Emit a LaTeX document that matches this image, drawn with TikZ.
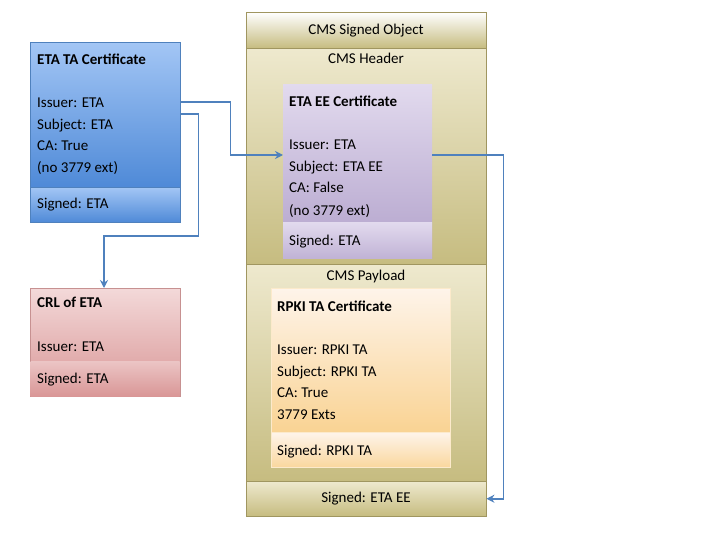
\documentclass[tikz,border=0pt]{standalone}
\usepackage{fontspec}
\setmainfont{Carlito}
\usetikzlibrary{arrows.meta}
\definecolor{linkblue}{HTML}{4F81BD}
\definecolor{olivetop}{HTML}{EEE9CE}
\definecolor{olivebot}{HTML}{C6BC80}
\definecolor{oliveline}{HTML}{A09660}
\definecolor{bluetop}{HTML}{A3C6F5}
\definecolor{bluebot}{HTML}{3A7BD0}
\definecolor{violettop}{HTML}{E2DAEE}
\definecolor{violetbot}{HTML}{B2A2CB}
\definecolor{redtop}{HTML}{F3D9D9}
\definecolor{redbot}{HTML}{D99696}
\definecolor{orangetop}{HTML}{FEF4EA}
\definecolor{orangebot}{HTML}{F8CB7E}
\tikzset{
  box/.style={anchor=north west, inner sep=0pt},
  txt/.style={anchor=base west, inner sep=0pt, font=\fontsize{15}{18}\selectfont},
  ctxt/.style={anchor=base, inner sep=0pt, font=\fontsize{15}{18}\selectfont},
  link/.style={draw=linkblue, line width=1.6pt, -{Stealth[length=8pt,width=8pt]}}
}
\begin{document}
\begin{tikzpicture}[x=1pt, y=-1pt]
  \useasboundingbox (0,0) rectangle (720,540);

  % CMS signed object
  \node[box, draw=oliveline, minimum width=240pt, minimum height=36pt, top color=white, bottom color=olivebot] (cmstitle) at (246,12) {};
  \node[box, draw=oliveline, minimum width=240pt, minimum height=216pt, top color=olivetop, bottom color=olivebot] (header) at (246,48) {};
  \node[box, draw=oliveline, minimum width=240pt, minimum height=217pt, top color=olivetop, bottom color=olivebot] (payload) at (246,264) {};
  \node[box, draw=oliveline, minimum width=240pt, minimum height=35pt, top color=olivetop, bottom color=olivebot] (cmssig) at (246,481) {};
  \node[ctxt] at (366,35) {CMS Signed Object};
  \node[ctxt] at (366,64) {CMS Header};
  \node[ctxt] at (366,280) {CMS Payload};
  \node[ctxt] at (366,502) {Signed: ETA EE};

  % ETA EE certificate
  \node[box, minimum width=149pt, minimum height=174pt, top color=violettop, bottom color=violetbot] (ee) at (283,84) {};
  \node[box, minimum width=149pt, minimum height=36pt, top color=violettop, bottom color=violetbot!70!violettop] (eesig) at (283,222) {};
  \node[txt, font=\fontsize{15}{18}\bfseries] at (289,107) {ETA EE Certificate};
  \node[txt] at (289,150) {Issuer: ETA};
  \node[txt] at (289,172) {Subject: ETA EE};
  \node[txt] at (289,193) {CA: False};
  \node[txt] at (289,215) {(no 3779 ext)};
  \node[txt] at (289,245) {Signed: ETA};

  % ETA TA certificate
  \node[box, draw=linkblue, minimum width=150pt, minimum height=180pt, top color=bluetop, bottom color=bluebot] (ta) at (30,42) {};
  \node[box, draw=linkblue, minimum width=150pt, minimum height=35pt, top color=bluetop, bottom color=bluebot!80!bluetop] (tasig) at (30,187) {};
  \node[txt, font=\fontsize{15}{18}\bfseries] at (37,65) {ETA TA Certificate};
  \node[txt] at (37,108) {Issuer: ETA};
  \node[txt] at (37,130) {Subject: ETA};
  \node[txt] at (37,151) {CA: True};
  \node[txt] at (37,173) {(no 3779 ext)};
  \node[txt] at (37,209) {Signed: ETA};

  % CRL of ETA
  \node[box, draw=redbot!80!gray, minimum width=150pt, minimum height=108pt, top color=redtop, bottom color=redbot] (crl) at (30,288) {};
  \node[box, minimum width=149pt, minimum height=35pt, top color=redtop!70!redbot, bottom color=redbot] (crlsig) at (30.5,361) {};
  \node[txt, font=\fontsize{15}{18}\bfseries] at (37,307) {CRL of ETA};
  \node[txt] at (37,351) {Issuer: ETA};
  \node[txt] at (37,383) {Signed: ETA};

  % RPKI TA certificate
  \node[box, draw=orangebot!40!white, minimum width=179pt, minimum height=179pt, top color=orangetop, bottom color=orangebot] (rpki) at (271,288) {};
  \node[box, draw=orangebot!40!white, minimum width=179pt, minimum height=35pt, top color=orangetop, bottom color=orangebot!70!orangetop] (rpkisig) at (271,432) {};
  \node[txt, font=\fontsize{15}{18}\bfseries] at (277,311) {RPKI TA Certificate};
  \node[txt] at (277,354) {Issuer: RPKI TA};
  \node[txt] at (277,376) {Subject: RPKI TA};
  \node[txt] at (277,397) {CA: True};
  \node[txt] at (277,419) {3779 Exts};
  \node[txt] at (277,455) {Signed: RPKI TA};

  % links
  \draw[link] ([yshift=-60pt]ta.north east) -- ++(50,0) |- ([yshift=-71pt]ee.north west);
  \draw[link] ([yshift=-72pt]ta.north east) -- ++(18,0) -- ++(0,122) -| (crl.north -| 104,0);
  \draw[link] ([yshift=-71pt]ee.north east) -- ++(71,0) |- (cmssig.east);
\end{tikzpicture}
\end{document}
